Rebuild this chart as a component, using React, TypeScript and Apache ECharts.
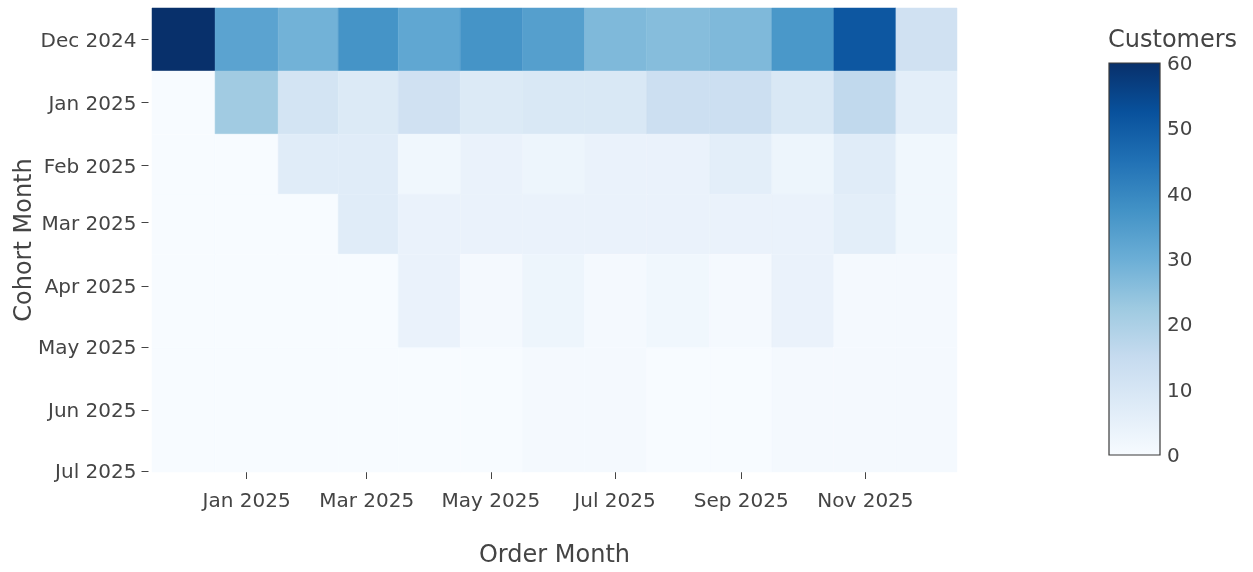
import React, { useEffect, useRef } from 'react';
import * as echarts from 'echarts';

// ---- data ----
const orderMonths = ['2024-12', '2025-01', '2025-02', '2025-03', '2025-04', '2025-05', '2025-06', '2025-07', '2025-08', '2025-09', '2025-10', '2025-11', '2025-12'];
const cohortMonths = ['2024-12', '2025-01', '2025-02', '2025-03', '2025-04', '2025-06'];
const xTickMonths = ['2025-01', '2025-03', '2025-05', '2025-07', '2025-09', '2025-11'];
const yTickMonths = ['2024-12', '2025-01', '2025-02', '2025-03', '2025-04', '2025-05', '2025-06', '2025-07'];

const cohortDec2024 = [60, 33, 29, 37, 32, 37, 34, 27, 26, 27, 36, 51, 12];
const cohortJan2025 = [0, 22, 11, 8, 12, 8, 9, 9, 13, 13, 9, 16, 6];
const cohortFeb2025 = [0, 0, 7, 7, 2, 4, 3, 4, 4, 6, 3, 7, 2];
const cohortMar2025 = [0, 0, 0, 7, 4, 4, 4, 4, 4, 4, 4, 6, 2];
const cohortApr2025 = [0, 0, 0, 0, 4, 1, 3, 1, 2, 1, 4, 1, 1];
const cohortJun2025 = [0, 0, 0, 0, 0, 0, 1, 1, 0, 0, 1, 1, 1];
const customerRows = [cohortDec2024, cohortJan2025, cohortFeb2025, cohortMar2025, cohortApr2025, cohortJun2025];

const colorMin = 0;
const colorMax = 60;
const colorStep = 10;

const bluesScale = ['#f7fbff', '#deebf7', '#c6dbef', '#9ecae1', '#6baed6', '#4292c6', '#2171b5', '#08519c', '#08306b'];
const monthNames = ['Jan', 'Feb', 'Mar', 'Apr', 'May', 'Jun', 'Jul', 'Aug', 'Sep', 'Oct', 'Nov', 'Dec'];

// ---- helpers ----
const DAY = 86400000;
const toDay = (ym: string) => {
  const [y, m] = ym.split('-').map(Number);
  return Date.UTC(y, m - 1, 1) / DAY;
};
const edgesOf = (days: number[]) => {
  const n = days.length;
  const e: number[] = [];
  e.push(days[0] - (days[1] - days[0]) / 2);
  for (let i = 0; i < n - 1; i++) e.push((days[i] + days[i + 1]) / 2);
  e.push(days[n - 1] + (days[n - 1] - days[n - 2]) / 2);
  return e;
};
const dayLabel = (v: number) => {
  const d = new Date(Math.round(v) * DAY);
  return monthNames[d.getUTCMonth()] + ' ' + d.getUTCFullYear();
};

const FONT = "'DejaVu Sans', Verdana, sans-serif";
const TXT = '#444';

export default function App() {
  const ref = useRef<HTMLDivElement>(null);
  useEffect(() => {
    document.body.style.margin = '0';
    if (!ref.current) return;
    const chart = echarts.init(ref.current, null, { renderer: 'svg' });

    const xDays = orderMonths.map(toDay);
    const yDays = cohortMonths.map(toDay);
    const xEdges = edgesOf(xDays);
    const yEdges = edgesOf(yDays);

    const cells: number[][] = [];
    customerRows.forEach((row, yi) => {
      row.forEach((v, xi) => {
        cells.push([xDays[xi], yDays[yi], v, xi, yi]);
      });
    });

    const gradStops = bluesScale.map((c, i) => ({ offset: 1 - i / (bluesScale.length - 1), color: c })).reverse();

    chart.setOption({
      animation: false,
      textStyle: { fontFamily: FONT, color: TXT },
      title: {
        text: 'Customers',
        left: 1108,
        top: 27,
        padding: 0,
        textStyle: { fontSize: 24, fontWeight: 'normal', color: TXT, fontFamily: FONT, lineHeight: 24 },
      },
      grid: [
        { left: 152, top: 8, width: 805, height: 464, outerBoundsMode: 'none' },
        { left: 1109, top: 63, width: 51, height: 392, outerBoundsMode: 'none' },
      ],
      visualMap: {
        type: 'continuous',
        show: false,
        min: colorMin,
        max: colorMax,
        dimension: 2,
        seriesIndex: 0,
        inRange: { color: bluesScale },
      },
      xAxis: [
        {
          type: 'value',
          gridIndex: 0,
          min: xEdges[0],
          max: xEdges[xEdges.length - 1],
          axisLine: { show: false },
          splitLine: { show: false },
          axisTick: { show: true, length: 7, customValues: xTickMonths.map(toDay), lineStyle: { color: TXT, width: 1 } },
          axisLabel: {
            customValues: xTickMonths.map(toDay),
            formatter: (v: number) => dayLabel(v),
            fontSize: 20,
            lineHeight: 20,
            color: TXT,
            fontFamily: FONT,
            margin: 18,
          },
          name: 'Order Month',
          nameLocation: 'middle',
          nameGap: 70,
          nameMoveOverlap: false,
          nameTextStyle: { fontSize: 24, color: TXT, fontFamily: FONT, lineHeight: 24 },
        },
        { type: 'value', gridIndex: 1, min: 0, max: 1, show: false },
      ],
      yAxis: [
        {
          type: 'value',
          gridIndex: 0,
          inverse: true,
          offset: 3.5,
          min: yEdges[0],
          max: yEdges[yEdges.length - 1],
          axisLine: { show: false },
          splitLine: { show: false },
          axisTick: { show: true, length: 7, customValues: yTickMonths.map(toDay), lineStyle: { color: TXT, width: 1 } },
          axisLabel: {
            customValues: yTickMonths.map(toDay),
            formatter: (v: number) => dayLabel(v),
            fontSize: 20,
            lineHeight: 20,
            color: TXT,
            fontFamily: FONT,
            margin: 12,
          },
          name: 'Cohort Month',
          nameLocation: 'middle',
          nameGap: 114,
          nameMoveOverlap: false,
          nameTextStyle: { fontSize: 24, color: TXT, fontFamily: FONT, lineHeight: 24 },
        },
        {
          type: 'value',
          gridIndex: 1,
          position: 'right',
          min: colorMin,
          max: colorMax,
          interval: colorStep,
          axisLine: { show: false },
          axisTick: { show: false },
          splitLine: { show: false },
          axisLabel: { fontSize: 20, lineHeight: 20, color: TXT, fontFamily: FONT, margin: 7 },
        },
      ],
      series: [
        {
          type: 'custom',
          xAxisIndex: 0,
          yAxisIndex: 0,
          data: cells,
          encode: { x: 0, y: 1 },
          renderItem: (params: any, api: any) => {
            const xi = api.value(3);
            const yi = api.value(4);
            const p0 = api.coord([xEdges[xi], yEdges[yi]]);
            const p1 = api.coord([xEdges[xi + 1], yEdges[yi + 1]]);
            const color = api.visual('color');
            return {
              type: 'rect',
              shape: {
                x: Math.min(p0[0], p1[0]),
                y: Math.min(p0[1], p1[1]),
                width: Math.abs(p1[0] - p0[0]),
                height: Math.abs(p1[1] - p0[1]),
              },
              style: { fill: color, stroke: color, lineWidth: 0.5 },
            };
          },
        },
        {
          type: 'custom',
          xAxisIndex: 1,
          yAxisIndex: 1,
          data: [[0.5, (colorMin + colorMax) / 2]],
          renderItem: (params: any, api: any) => {
            const p0 = api.coord([0, colorMax]);
            const p1 = api.coord([1, colorMin]);
            return {
              type: 'rect',
              shape: { x: p0[0], y: p0[1], width: p1[0] - p0[0], height: p1[1] - p0[1] },
              style: {
                fill: new echarts.graphic.LinearGradient(0, 0, 0, 1, gradStops),
                stroke: '#3a3a3a',
                lineWidth: 1.2,
              },
            };
          },
        },
      ],
    });
    return () => chart.dispose();
  }, []);
  return <div ref={ref} style={{ width: 1253, height: 572, position: 'fixed', left: 0, top: 0 }} />;
}
